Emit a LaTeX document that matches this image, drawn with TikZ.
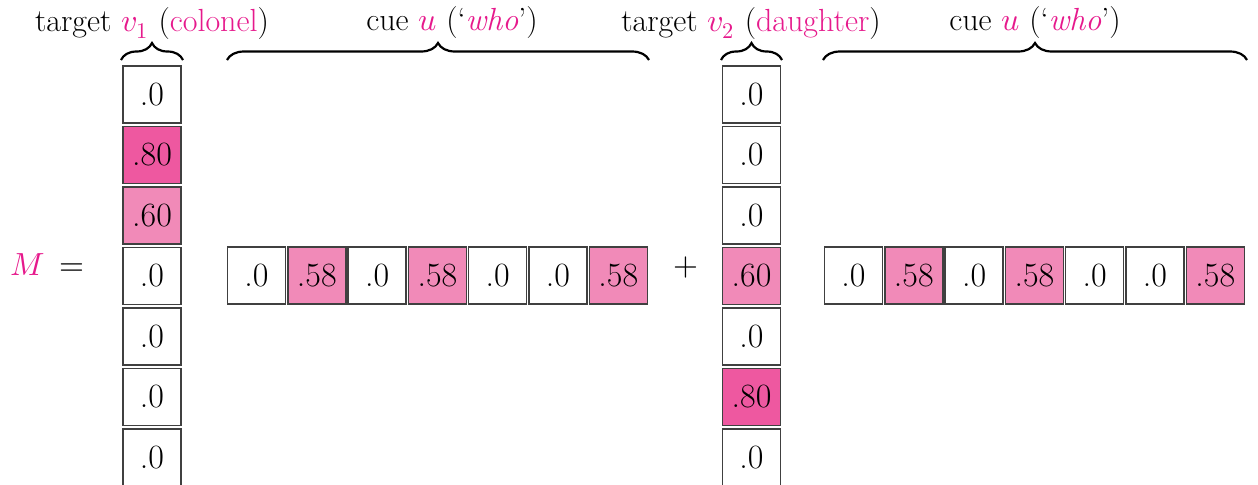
\documentclass[tikz,border=0pt]{standalone}
\usepackage{fontspec}
\usepackage{unicode-math}
\setmathfont{Latin Modern Math}
\usetikzlibrary{decorations.pathreplacing}
\definecolor{mag}{RGB}{230,25,140}
\definecolor{pinkD}{RGB}{238,88,160}
\definecolor{pinkL}{RGB}{241,138,184}
\begin{document}
\begin{tikzpicture}[x=0.5pt,y=-0.5pt,
 cell/.style={draw=black!75,line width=0.75pt,minimum width=29pt,minimum height=28.5pt,inner sep=0pt,font=\fontsize{17}{20}\selectfont},
 hi/.style={cell,fill=pinkD},
 mid/.style={cell,fill=pinkL},
 lbl/.style={font=\fontsize{16}{19}\selectfont,anchor=base,inner sep=0pt},
 brc/.style={decorate,decoration={brace,amplitude=8.5pt},line width=1.1pt}]
\useasboundingbox (0,0) rectangle (1258,484);
% column v1
\foreach \i/\v/\s in {1/.0/cell,2/.80/hi,3/.60/mid,4/.0/cell,5/.0/cell,6/.0/cell,7/.0/cell}
  \node[\s] (a\i) at (152,{94.5+60.5*(\i-1)}) {\v};
% column v2
\foreach \i/\v/\s in {1/.0/cell,2/.0/cell,3/.0/cell,4/.60/mid,5/.0/cell,6/.80/hi,7/.0/cell}
  \node[\s] (b\i) at (751.5,{94.5+60.5*(\i-1)}) {\v};
% row u (first)
\foreach \i/\v/\s in {1/.0/cell,2/.58/mid,3/.0/cell,4/.58/mid,5/.0/cell,6/.0/cell,7/.58/mid}
  \node[\s] (r\i) at ({256.5+60.3*(\i-1)},275.5) {\v};
% row u (second)
\foreach \i/\v/\s in {1/.0/cell,2/.58/mid,3/.0/cell,4/.58/mid,5/.0/cell,6/.0/cell,7/.58/mid}
  \node[\s] (s\i) at ({853.5+60.3*(\i-1)},275.5) {\v};
% braces
\coordinate (ba1) at (121,60); \coordinate (ba2) at (183,60);
\coordinate (br1) at (227,60); \coordinate (br2) at (649,60);
\coordinate (bb1) at (721,60); \coordinate (bb2) at (782,60);
\coordinate (bs1) at (823,60); \coordinate (bs2) at (1247,60);
\draw[brc] (ba1) -- (ba2);
\draw[brc] (br1) -- (br2);
\draw[brc] (bb1) -- (bb2);
\draw[brc] (bs1) -- (bs2);
% labels
\node[lbl] (t1) at (152,31) {target \textcolor{mag}{$v_1$} (\textcolor{mag}{colonel})};
\node[lbl] (c1) at (452,30) {cue \textcolor{mag}{$u$} (‘\textcolor{mag}{\itshape who}’)};
\node[lbl] (t2) at (751,31) {target \textcolor{mag}{$v_2$} (\textcolor{mag}{daughter})};
\node[lbl] (c2) at (1035,30) {cue \textcolor{mag}{$u$} (‘\textcolor{mag}{\itshape who}’)};
\node[lbl] (M) at (28,275) {\textcolor{mag}{$M$}};
\node[lbl] (eq) at (72,275) {$=$};
\node[lbl] (plus) at (686,275) {$+$};
\end{tikzpicture}
\end{document}
